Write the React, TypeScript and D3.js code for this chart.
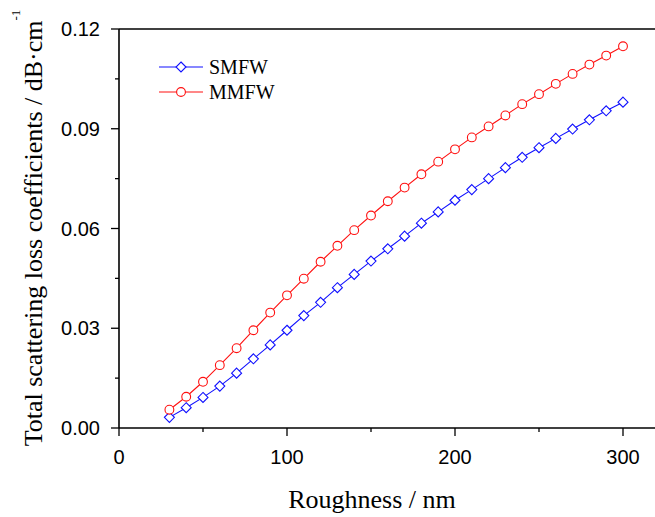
import React from "react";
import * as d3 from "d3";

const roughness = [30, 40, 50, 60, 70, 80, 90, 100, 110, 120, 130, 140, 150, 160, 170, 180, 190, 200, 210, 220, 230, 240, 250, 260, 270, 280, 290, 300];
const smfw = [0.0032, 0.0061, 0.0092, 0.0126, 0.0165, 0.0208, 0.025, 0.0294, 0.0338, 0.0378, 0.0422, 0.0462, 0.0502, 0.0539, 0.0577, 0.0616, 0.065, 0.0685, 0.0717, 0.075, 0.0783, 0.0814, 0.0843, 0.0871, 0.0899, 0.0927, 0.0954, 0.098];
const mmfw = [0.0055, 0.0094, 0.0139, 0.0189, 0.024, 0.0294, 0.0347, 0.0399, 0.0449, 0.05, 0.0548, 0.0595, 0.0639, 0.0682, 0.0723, 0.0763, 0.0801, 0.0838, 0.0874, 0.0907, 0.094, 0.0974, 0.1004, 0.1035, 0.1065, 0.1093, 0.112, 0.1148];
const xMajor = [0, 100, 200, 300];
const xMinor = [50, 150, 250];
const yMajor = [0, 0.03, 0.06, 0.09, 0.12];
const yMinor = [0.015, 0.045, 0.075, 0.105];
const seriesNames = ["SMFW", "MMFW"];

const W = 655, H = 517;
const L = 119, T = 29, B = 428;
const x = d3.scaleLinear().domain([0, 320]).range([L, L + 320 * 1.68]);
const y = d3.scaleLinear().domain([0, 0.12]).range([B, T]);

const serif = "'Liberation Serif', 'Times New Roman', serif";
const sans = "'Liberation Sans', Arial, sans-serif";

function Diamond({ cx, cy, color }: { cx: number; cy: number; color: string }) {
  const r = 5;
  return <path d={`M${cx},${cy - r}L${cx + r},${cy}L${cx},${cy + r}L${cx - r},${cy}Z`} fill="white" stroke={color} strokeWidth={1.1} />;
}
function Circle({ cx, cy, color }: { cx: number; cy: number; color: string }) {
  return <circle cx={cx} cy={cy} r={4.4} fill="white" stroke={color} strokeWidth={1.1} />;
}

export default function App() {
  const line = d3.line<number>().x((_, i) => x(roughness[i])).y((d) => y(d));
  const blue = "#1010ff";
  const red = "#ff1010";
  return (
    <svg width={W} height={H} style={{ position: "absolute", left: 0, top: 0, background: "white" }}>
      {/* frame */}
      <line x1={L} x2={W + 5} y1={T} y2={T} stroke="#000" strokeWidth={1.6} />
      <line x1={L} x2={W + 5} y1={B} y2={B} stroke="#000" strokeWidth={1.6} />
      <line x1={L} x2={L} y1={T} y2={B} stroke="#000" strokeWidth={1.6} />
      {/* x ticks */}
      {xMajor.map((v) => (
        <g key={"xm" + v}>
          <line x1={x(v)} x2={x(v)} y1={B} y2={B + 8} stroke="#000" strokeWidth={1.3} />
          <text x={x(v)} y={464} textAnchor="middle" fontFamily={sans} fontSize={20}>{v}</text>
        </g>
      ))}
      {xMinor.map((v) => (
        <line key={"xn" + v} x1={x(v)} x2={x(v)} y1={B} y2={B + 4} stroke="#000" strokeWidth={1.3} />
      ))}
      {/* y ticks */}
      {yMajor.map((v) => (
        <g key={"ym" + v}>
          <line x1={L - 8} x2={L} y1={y(v)} y2={y(v)} stroke="#000" strokeWidth={1.3} />
          <text x={100} y={y(v) + 7} textAnchor="end" fontFamily={sans} fontSize={20}>{v.toFixed(2)}</text>
        </g>
      ))}
      {yMinor.map((v) => (
        <line key={"yn" + v} x1={L - 4} x2={L} y1={y(v)} y2={y(v)} stroke="#000" strokeWidth={1.3} />
      ))}
      {/* axis titles */}
      <text x={372} y={508} textAnchor="middle" fontFamily={serif} fontSize={26}>Roughness / nm</text>
      <text transform={`translate(42,228) rotate(-90)`} textAnchor="middle" fontFamily={serif} fontSize={26}>
        Total scattering loss coefficients / dB·cm<tspan dy={-22} fontSize={13}>-1</tspan>
      </text>
      {/* series */}
      <path d={line(smfw) || ""} fill="none" stroke={blue} strokeWidth={1.1} />
      <path d={line(mmfw) || ""} fill="none" stroke={red} strokeWidth={1.1} />
      {smfw.map((v, i) => <Diamond key={"d" + i} cx={x(roughness[i])} cy={y(v)} color={blue} />)}
      {mmfw.map((v, i) => <Circle key={"c" + i} cx={x(roughness[i])} cy={y(v)} color={red} />)}
      {/* legend */}
      <line x1={159} x2={203} y1={67} y2={67} stroke={blue} strokeWidth={1.1} />
      <Diamond cx={181} cy={67} color={blue} />
      <text x={209} y={74} fontFamily={serif} fontSize={20}>{seriesNames[0]}</text>
      <line x1={159} x2={203} y1={92} y2={92} stroke={red} strokeWidth={1.1} />
      <Circle cx={181} cy={92} color={red} />
      <text x={209} y={99} fontFamily={serif} fontSize={20}>{seriesNames[1]}</text>
    </svg>
  );
}
